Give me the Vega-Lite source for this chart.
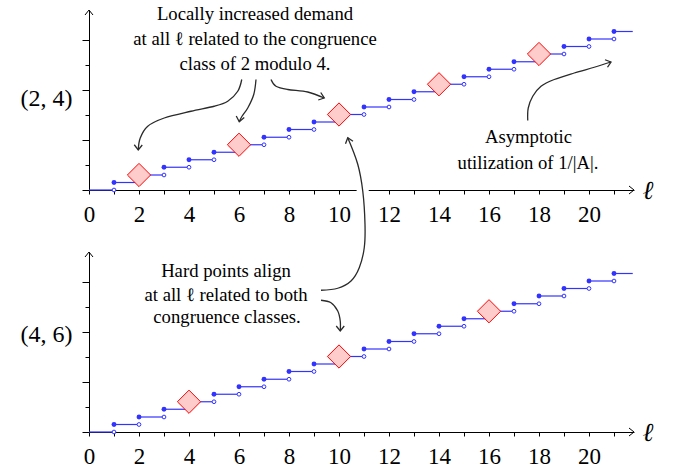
{
  "$schema": "https://vega.github.io/schema/vega-lite/v6.json",
  "padding": {"left": 20, "top": 4, "right": 5, "bottom": 5},
  "background": "white",
  "datasets": {
    "steps": [
      {"l": 0, "next": 1, "v": 0, "prev": null},
      {"l": 1, "next": 2, "v": 0.30, "prev": 0},
      {"l": 2, "next": 3, "v": 0.60, "prev": 0.30},
      {"l": 3, "next": 4, "v": 0.91, "prev": 0.60},
      {"l": 4, "next": 5, "v": 1.21, "prev": 0.91},
      {"l": 5, "next": 6, "v": 1.51, "prev": 1.21},
      {"l": 6, "next": 7, "v": 1.81, "prev": 1.51},
      {"l": 7, "next": 8, "v": 2.11, "prev": 1.81},
      {"l": 8, "next": 9, "v": 2.42, "prev": 2.11},
      {"l": 9, "next": 10, "v": 2.72, "prev": 2.42},
      {"l": 10, "next": 11, "v": 3.02, "prev": 2.72},
      {"l": 11, "next": 12, "v": 3.32, "prev": 3.02},
      {"l": 12, "next": 13, "v": 3.62, "prev": 3.32},
      {"l": 13, "next": 14, "v": 3.93, "prev": 3.62},
      {"l": 14, "next": 15, "v": 4.23, "prev": 3.93},
      {"l": 15, "next": 16, "v": 4.53, "prev": 4.23},
      {"l": 16, "next": 17, "v": 4.83, "prev": 4.53},
      {"l": 17, "next": 18, "v": 5.13, "prev": 4.83},
      {"l": 18, "next": 19, "v": 5.44, "prev": 5.13},
      {"l": 19, "next": 20, "v": 5.74, "prev": 5.44},
      {"l": 20, "next": 21, "v": 6.04, "prev": 5.74},
      {"l": 21, "next": 21.75, "v": 6.34, "prev": 6.04}
    ],
    "axisHeads": [
      {"g": "x", "i": 0, "x": 21.6, "y": 0.16},
      {"g": "x", "i": 1, "x": 21.8, "y": 0},
      {"g": "x", "i": 2, "x": 21.6, "y": -0.16},
      {"g": "y", "i": 0, "x": -0.16, "y": 7.0},
      {"g": "y", "i": 1, "x": 0, "y": 7.2},
      {"g": "y", "i": 2, "x": 0.16, "y": 7.0}
    ],
    "hardTop": [
      {"l": 2, "v": 0.60}, {"l": 6, "v": 1.81}, {"l": 10, "v": 3.02}, {"l": 14, "v": 4.23}, {"l": 18, "v": 5.44}
    ],
    "hardBottom": [
      {"l": 4, "v": 1.21}, {"l": 10, "v": 3.02}, {"l": 16, "v": 4.83}
    ],
    "arrowsTop": [
      {"id": "A", "i": 0, "x": 6.11, "y": 4.42},
      {"id": "A", "i": 1, "x": 5.95, "y": 3.95},
      {"id": "A", "i": 2, "x": 5.55, "y": 3.55},
      {"id": "A", "i": 3, "x": 5.01, "y": 3.35},
      {"id": "A", "i": 4, "x": 4.08, "y": 3.15},
      {"id": "A", "i": 5, "x": 3.01, "y": 2.88},
      {"id": "A", "i": 6, "x": 2.35, "y": 2.55},
      {"id": "A", "i": 7, "x": 2.05, "y": 2.08},
      {"id": "A", "i": 8, "x": 1.97, "y": 1.60},
      {"id": "B", "i": 0, "x": 6.68, "y": 4.42},
      {"id": "B", "i": 1, "x": 6.59, "y": 3.82},
      {"id": "B", "i": 2, "x": 6.35, "y": 3.28},
      {"id": "B", "i": 3, "x": 6.12, "y": 2.95},
      {"id": "B", "i": 4, "x": 6.01, "y": 2.73},
      {"id": "C", "i": 0, "x": 7.28, "y": 4.42},
      {"id": "C", "i": 1, "x": 7.48, "y": 4.15},
      {"id": "C", "i": 2, "x": 7.95, "y": 4.02},
      {"id": "C", "i": 3, "x": 8.75, "y": 3.92},
      {"id": "C", "i": 4, "x": 9.41, "y": 3.68},
      {"id": "U", "i": 0, "x": 17.55, "y": 2.78},
      {"id": "U", "i": 1, "x": 17.57, "y": 3.28},
      {"id": "U", "i": 2, "x": 17.75, "y": 3.75},
      {"id": "U", "i": 3, "x": 18.08, "y": 4.15},
      {"id": "U", "i": 4, "x": 18.61, "y": 4.42},
      {"id": "U", "i": 5, "x": 19.41, "y": 4.68},
      {"id": "U", "i": 6, "x": 20.21, "y": 4.91},
      {"id": "U", "i": 7, "x": 20.88, "y": 5.12}
    ],
    "headsTop": [
      {"id": "A", "i": 0, "x": 2.13, "y": 1.80},
      {"id": "A", "i": 1, "x": 1.97, "y": 1.60},
      {"id": "A", "i": 2, "x": 1.81, "y": 1.81},
      {"id": "B", "i": 0, "x": 6.21, "y": 2.90},
      {"id": "B", "i": 1, "x": 6.01, "y": 2.73},
      {"id": "B", "i": 2, "x": 5.89, "y": 2.96},
      {"id": "C", "i": 0, "x": 9.27, "y": 3.90},
      {"id": "C", "i": 1, "x": 9.41, "y": 3.68},
      {"id": "C", "i": 2, "x": 9.17, "y": 3.60},
      {"id": "U", "i": 0, "x": 20.64, "y": 5.21},
      {"id": "U", "i": 1, "x": 20.88, "y": 5.12},
      {"id": "U", "i": 2, "x": 20.74, "y": 4.91}
    ],
    "arrowsBottom": [
      {"id": "D", "i": 0, "x": 9.28, "y": 5.67},
      {"id": "D", "i": 1, "x": 9.95, "y": 5.75},
      {"id": "D", "i": 2, "x": 10.48, "y": 6.04},
      {"id": "D", "i": 3, "x": 10.81, "y": 6.57},
      {"id": "D", "i": 4, "x": 11.01, "y": 7.37},
      {"id": "D", "i": 5, "x": 11.04, "y": 8.31},
      {"id": "D", "i": 6, "x": 10.95, "y": 9.64},
      {"id": "D", "i": 7, "x": 10.75, "y": 10.71},
      {"id": "D", "i": 8, "x": 10.35, "y": 11.77},
      {"id": "E", "i": 0, "x": 9.28, "y": 5.27},
      {"id": "E", "i": 1, "x": 9.68, "y": 5.17},
      {"id": "E", "i": 2, "x": 9.95, "y": 4.84},
      {"id": "E", "i": 3, "x": 10.05, "y": 4.44},
      {"id": "E", "i": 4, "x": 10.05, "y": 4.04}
    ],
    "headsBottom": [
      {"id": "D", "i": 0, "x": 10.56, "y": 11.63},
      {"id": "D", "i": 1, "x": 10.35, "y": 11.77},
      {"id": "D", "i": 2, "x": 10.26, "y": 11.53},
      {"id": "E", "i": 0, "x": 10.21, "y": 4.24},
      {"id": "E", "i": 1, "x": 10.05, "y": 4.04},
      {"id": "E", "i": 2, "x": 9.89, "y": 4.24}
    ],
    "notesTop": [
      {"t": "Locally increased demand", "x": 6.64, "y": 6.82},
      {"t": "at all ℓ related to the congruence", "x": 6.64, "y": 5.82},
      {"t": "class of 2 modulo 4.", "x": 6.64, "y": 4.82},
      {"t": "Asymptotic", "x": 17.58, "y": 1.88},
      {"t": "utilization of 1/|A|.", "x": 17.56, "y": 0.84}
    ],
    "notesBottom": [
      {"t": "Hard points align", "x": 5.48, "y": 6.2},
      {"t": "at all ℓ related to both", "x": 5.48, "y": 5.24},
      {"t": "congruence classes.", "x": 5.52, "y": 4.37}
    ]
  },
  "vconcat": [
    {
      "width": 545,
      "height": 180,
      "encoding": {
        "x": {"type": "quantitative", "scale": {"domain": [0, 21.8], "nice": false, "zero": false},
          "axis": {"values": [0,1,2,3,4,5,6,7,8,9,10,11,12,13,14,15,16,17,18,19,20,21], "labelExpr": "datum.value % 2 === 0 ? datum.label : ''", "tickSize": 4, "labelPadding": 9, "labelFontSize": 23, "labelFlush": false, "labelOverlap": false, "title": "ℓ", "titleFontSize": 26, "titleFontStyle": "italic", "titleX": 553, "titleY": 0, "titleAlign": "left", "titleBaseline": "middle"}},
        "y": {"type": "quantitative", "scale": {"domain": [0, 7.2], "nice": false, "zero": false},
          "axis": {"values": [0,1,2,3,4,5,6], "labels": false, "tickSize": {"condition": {"test": "datum.value % 2 === 0", "value": 7}, "value": 4}, "title": "(2, 4)", "titleAngle": 0, "titleFontSize": 24, "titleAlign": "right", "titleBaseline": "middle", "titleX": -17, "titleY": 88}}
      },
      "layer": [
        {
          "data": {"name": "steps"},
          "mark": {"type": "rule", "color": "#3333ff", "strokeWidth": 1.2},
          "encoding": {"x": {"field": "l"}, "x2": {"field": "next"}, "y": {"field": "v"}}
        },
        {
          "data": {"name": "steps"},
          "transform": [{"filter": "datum.l >= 1"}],
          "mark": {"type": "point", "shape": "circle", "filled": true, "fill": "white", "stroke": "#3333ff", "strokeWidth": 1, "size": 14, "opacity": 1},
          "encoding": {"x": {"field": "l"}, "y": {"field": "prev"}}
        },
        {
          "data": {"name": "steps"},
          "transform": [{"filter": "datum.l >= 1"}],
          "mark": {"type": "point", "shape": "circle", "filled": true, "color": "#3333ff", "size": 24, "opacity": 1},
          "encoding": {"x": {"field": "l"}, "y": {"field": "v"}}
        },
        {
          "data": {"name": "hardTop"},
          "mark": {"type": "point", "shape": "diamond", "filled": true, "fill": "#ffcccc", "stroke": "#ff0000", "strokeWidth": 1, "size": 540, "opacity": 1},
          "encoding": {"x": {"field": "l"}, "y": {"field": "v"}}
        },
        {
          "data": {"name": "axisHeads"},
          "mark": {"type": "line", "color": "black", "strokeWidth": 1},
          "encoding": {"x": {"field": "x"}, "y": {"field": "y"}, "detail": {"field": "g"}, "order": {"field": "i"}}
        },
        {
          "data": {"name": "arrowsTop"},
          "mark": {"type": "line", "color": "#2a2a2a", "strokeWidth": 1.3, "interpolate": "cardinal"},
          "encoding": {"x": {"field": "x"}, "y": {"field": "y"}, "detail": {"field": "id"}, "order": {"field": "i"}}
        },
        {
          "data": {"name": "headsTop"},
          "mark": {"type": "line", "color": "#2a2a2a", "strokeWidth": 1.3},
          "encoding": {"x": {"field": "x"}, "y": {"field": "y"}, "detail": {"field": "id"}, "order": {"field": "i"}}
        },
        {
          "data": {"name": "notesTop"},
          "mark": {"type": "text", "font": "Liberation Serif", "fontSize": 18.7, "align": "center", "baseline": "alphabetic", "color": "black"},
          "encoding": {"x": {"field": "x"}, "y": {"field": "y"}, "text": {"field": "t"}}
        }
      ]
    },
    {
      "width": 545,
      "height": 180,
      "encoding": {
        "x": {"type": "quantitative", "scale": {"domain": [0, 21.8], "nice": false, "zero": false},
          "axis": {"values": [0,1,2,3,4,5,6,7,8,9,10,11,12,13,14,15,16,17,18,19,20,21], "labelExpr": "datum.value % 2 === 0 ? datum.label : ''", "tickSize": 4, "labelPadding": 9, "labelFontSize": 23, "labelFlush": false, "labelOverlap": false, "title": "ℓ", "titleFontSize": 26, "titleFontStyle": "italic", "titleX": 553, "titleY": 0, "titleAlign": "left", "titleBaseline": "middle"}},
        "y": {"type": "quantitative", "scale": {"domain": [0, 7.2], "nice": false, "zero": false},
          "axis": {"values": [0,1,2,3,4,5,6], "labels": false, "tickSize": {"condition": {"test": "datum.value % 2 === 0", "value": 7}, "value": 4}, "title": "(4, 6)", "titleAngle": 0, "titleFontSize": 24, "titleAlign": "right", "titleBaseline": "middle", "titleX": -17, "titleY": 82}}
      },
      "layer": [
        {
          "data": {"name": "steps"},
          "mark": {"type": "rule", "color": "#3333ff", "strokeWidth": 1.2},
          "encoding": {"x": {"field": "l"}, "x2": {"field": "next"}, "y": {"field": "v"}}
        },
        {
          "data": {"name": "steps"},
          "transform": [{"filter": "datum.l >= 1"}],
          "mark": {"type": "point", "shape": "circle", "filled": true, "fill": "white", "stroke": "#3333ff", "strokeWidth": 1, "size": 14, "opacity": 1},
          "encoding": {"x": {"field": "l"}, "y": {"field": "prev"}}
        },
        {
          "data": {"name": "steps"},
          "transform": [{"filter": "datum.l >= 1"}],
          "mark": {"type": "point", "shape": "circle", "filled": true, "color": "#3333ff", "size": 24, "opacity": 1},
          "encoding": {"x": {"field": "l"}, "y": {"field": "v"}}
        },
        {
          "data": {"name": "hardBottom"},
          "mark": {"type": "point", "shape": "diamond", "filled": true, "fill": "#ffcccc", "stroke": "#ff0000", "strokeWidth": 1, "size": 540, "opacity": 1},
          "encoding": {"x": {"field": "l"}, "y": {"field": "v"}}
        },
        {
          "data": {"name": "axisHeads"},
          "mark": {"type": "line", "color": "black", "strokeWidth": 1},
          "encoding": {"x": {"field": "x"}, "y": {"field": "y"}, "detail": {"field": "g"}, "order": {"field": "i"}}
        },
        {
          "data": {"name": "arrowsBottom"},
          "transform": [{"filter": "datum.id === 'D'"}],
          "mark": {"type": "line", "color": "white", "strokeWidth": 12, "interpolate": "cardinal"},
          "encoding": {"x": {"field": "x"}, "y": {"field": "y"}, "detail": {"field": "id"}, "order": {"field": "i"}}
        },
        {
          "data": {"name": "arrowsBottom"},
          "mark": {"type": "line", "color": "#2a2a2a", "strokeWidth": 1.3, "interpolate": "cardinal"},
          "encoding": {"x": {"field": "x"}, "y": {"field": "y"}, "detail": {"field": "id"}, "order": {"field": "i"}}
        },
        {
          "data": {"name": "headsBottom"},
          "mark": {"type": "line", "color": "#2a2a2a", "strokeWidth": 1.3},
          "encoding": {"x": {"field": "x"}, "y": {"field": "y"}, "detail": {"field": "id"}, "order": {"field": "i"}}
        },
        {
          "data": {"name": "notesBottom"},
          "mark": {"type": "text", "font": "Liberation Serif", "fontSize": 18.7, "align": "center", "baseline": "alphabetic", "color": "black"},
          "encoding": {"x": {"field": "x"}, "y": {"field": "y"}, "text": {"field": "t"}}
        }
      ]
    }
  ],
  "spacing": 62,
  "bounds": "flush",
  "config": {
    "view": {"stroke": null},
    "axis": {"grid": false, "domainColor": "black", "domainWidth": 1, "tickColor": "black", "tickWidth": 1, "labelColor": "black", "titleColor": "black", "labelFont": "Liberation Serif", "titleFont": "Liberation Serif", "titleFontWeight": "normal", "titlePadding": 0}
  }
}
